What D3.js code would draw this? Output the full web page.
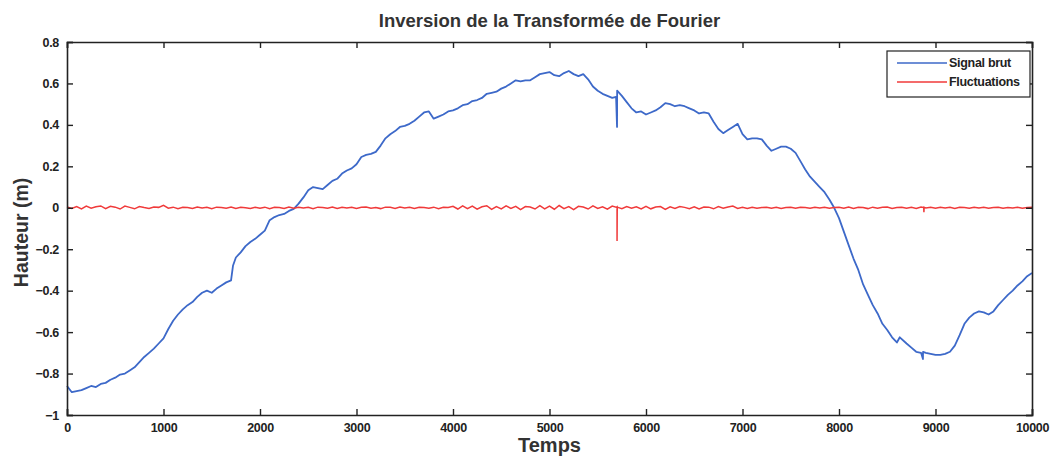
<!DOCTYPE html>
<html>
<head>
<meta charset="utf-8">
<script src="https://cdn.jsdelivr.net/npm/d3@7"></script>
<style>
  body { margin: 0; background: #fff; }
  svg { font-family: "Liberation Sans", Arial, sans-serif; }
  .tick text { font-weight: bold; font-size: 12.5px; fill: #222; letter-spacing: -0.3px; }
</style>
</head>
<body>
<div id="chart"></div>
<script>
// labels
const title = "Inversion de la Transformée de Fourier",
    xLabel = "Temps",
    yLabel = "Hauteur (m)",
    seriesNames = ["Signal brut", "Fluctuations"];

const xTicks = [0, 1000, 2000, 3000, 4000, 5000, 6000, 7000, 8000, 9000, 10000];
const yTicks = [-1, -0.8, -0.6, -0.4, -0.2, 0, 0.2, 0.4, 0.6, 0.8];

// signal brut
const brutTemps = [
    0, 50, 100, 150, 200, 250, 300, 350, 400, 450, 500, 550, 600, 650, 700, 750, 800, 850, 900, 950,
    1000, 1050, 1100, 1150, 1200, 1250, 1300, 1350, 1400, 1450, 1500, 1550, 1600, 1650, 1700, 1720, 1750, 1800, 1850, 1900, 1950,
    2000, 2050, 2100, 2150, 2200, 2250, 2300, 2350, 2400, 2450, 2500, 2550, 2600, 2650, 2700, 2750, 2800, 2850, 2900, 2950,
    3000, 3050, 3100, 3150, 3200, 3250, 3300, 3350, 3400, 3450, 3500, 3550, 3600, 3650, 3700, 3750, 3800, 3850, 3900, 3950,
    4000, 4050, 4100, 4150, 4200, 4250, 4300, 4350, 4400, 4450, 4500, 4550, 4600, 4650, 4700, 4750, 4800, 4850, 4900, 4950,
    5000, 5050, 5100, 5150, 5200, 5250, 5300, 5350, 5400, 5450, 5500, 5550, 5600, 5650, 5690, 5700, 5701, 5750, 5800, 5850, 5900, 5950,
    6000, 6050, 6100, 6150, 6200, 6250, 6300, 6350, 6400, 6450, 6500, 6550, 6600, 6650, 6700, 6750, 6800, 6850, 6900, 6950,
    7000, 7050, 7100, 7150, 7200, 7250, 7300, 7350, 7400, 7450, 7500, 7550, 7600, 7650, 7700, 7750, 7800, 7850, 7900, 7950,
    8000, 8050, 8100, 8150, 8200, 8250, 8300, 8350, 8400, 8450, 8500, 8550, 8600, 8630, 8700, 8750, 8800, 8850, 8870, 8871, 8900, 8950,
    9000, 9050, 9100, 9150, 9200, 9250, 9300, 9350, 9400, 9450, 9500, 9550, 9600, 9650, 9700, 9750, 9800, 9850, 9900, 9950, 10000
];
const brutValues = [
    -0.86, -0.89, -0.885, -0.88, -0.87, -0.86, -0.865, -0.85, -0.845, -0.83, -0.82, -0.805, -0.8, -0.785, -0.77, -0.745, -0.72, -0.7, -0.68, -0.655,
    -0.63, -0.585, -0.545, -0.515, -0.49, -0.47, -0.455, -0.43, -0.41, -0.4, -0.41, -0.39, -0.375, -0.36, -0.35, -0.28, -0.24, -0.215, -0.185, -0.165, -0.15,
    -0.13, -0.11, -0.06, -0.045, -0.035, -0.03, -0.015, -0.005, 0.02, 0.05, 0.085, 0.1, 0.095, 0.09, 0.11, 0.13, 0.14, 0.165, 0.18, 0.19,
    0.21, 0.245, 0.255, 0.26, 0.27, 0.3, 0.335, 0.355, 0.37, 0.39, 0.395, 0.405, 0.42, 0.44, 0.46, 0.465, 0.43, 0.44, 0.45, 0.465,
    0.47, 0.48, 0.495, 0.5, 0.515, 0.52, 0.53, 0.55, 0.555, 0.56, 0.575, 0.585, 0.6, 0.615, 0.61, 0.615, 0.615, 0.63, 0.645, 0.65,
    0.655, 0.64, 0.635, 0.65, 0.66, 0.645, 0.635, 0.645, 0.62, 0.585, 0.565, 0.55, 0.54, 0.53, 0.535, 0.39, 0.565, 0.54, 0.51, 0.48, 0.46, 0.465,
    0.45, 0.46, 0.47, 0.485, 0.505, 0.5, 0.49, 0.495, 0.49, 0.48, 0.47, 0.455, 0.46, 0.455, 0.415, 0.38, 0.36, 0.375, 0.39, 0.405,
    0.355, 0.33, 0.335, 0.335, 0.33, 0.3, 0.275, 0.285, 0.295, 0.295, 0.285, 0.265, 0.225, 0.185, 0.15, 0.125, 0.1, 0.075, 0.04, 0.0,
    -0.05, -0.115, -0.18, -0.245, -0.3, -0.37, -0.42, -0.47, -0.51, -0.56, -0.59, -0.625, -0.65, -0.625, -0.655, -0.675, -0.695, -0.7, -0.73, -0.695, -0.7, -0.705,
    -0.71, -0.71, -0.705, -0.695, -0.665, -0.615, -0.56, -0.53, -0.51, -0.5, -0.505, -0.515, -0.5, -0.47, -0.445, -0.42, -0.4, -0.375, -0.355, -0.33, -0.315
];

// fluctuations, one value every 50 time steps
const fluctValues = [
    0.004, -0.003, 0.006, -0.005, 0.008, -0.002, 0.005, 0.009, -0.004, 0.007, 0.003, -0.006, 0.008, 0.002, -0.005, 0.006, 0.001, -0.003, 0.004, 0.002,
    0.012, -0.002, 0.003, -0.004, 0.002, 0.001, -0.003, 0.004, -0.001, 0.002, -0.004, 0.003, 0.001, -0.002, 0.004, -0.003, 0.002, 0.0, -0.003, 0.003,
    -0.002, 0.003, -0.004, 0.002, 0.001, -0.003, 0.004, -0.002, 0.003, -0.001, 0.002, -0.004, 0.003, 0.001, -0.002, 0.004, -0.003, 0.002, -0.001, 0.003,
    -0.003, 0.002, 0.004, -0.002, 0.001, -0.004, 0.003, 0.002, -0.003, 0.004, -0.001, 0.002, -0.003, 0.003, 0.001, -0.002, 0.003, -0.004, 0.002, 0.001,
    0.007, -0.006, 0.009, -0.004, 0.008, -0.007, 0.005, 0.01, -0.008, 0.006, -0.005, 0.009, -0.003, 0.007, -0.009, 0.006, 0.004, -0.006, 0.01, -0.005,
    0.008, -0.007, 0.011, -0.004, 0.006, -0.009, 0.007, 0.004, -0.006, 0.009, -0.003, 0.005, -0.007, 0.008, 0.003, -0.004, 0.006, -0.002, 0.005, -0.006,
    0.007, -0.005, 0.004, 0.006, -0.008, 0.005, -0.003, 0.006, 0.002, -0.004, 0.005, -0.006, 0.004, 0.003, -0.005, 0.006, -0.002, 0.004, 0.008, -0.003,
    0.002, -0.003, 0.003, -0.002, 0.001, 0.003, -0.002, 0.002, -0.003, 0.001, 0.002, -0.002, 0.003, 0.001, -0.002, 0.002, -0.001, 0.003, -0.002, 0.001,
    0.003, -0.002, 0.004, -0.003, 0.002, 0.001, -0.004, 0.003, -0.002, 0.002, 0.004, -0.003, 0.001, 0.003, -0.002, 0.002, -0.003, 0.004, -0.001, 0.002,
    -0.002, 0.003, -0.001, 0.002, -0.003, 0.002, 0.001, -0.002, 0.003, -0.001, 0.002, -0.002, 0.001, 0.003, -0.002, 0.001, -0.001, 0.002, -0.002, 0.001,
    0.002
];
// spikes in the fluctuations
const fluctPicTemps = [5698, 5700, 5702, 8878, 8880, 8882];
const fluctPicValues = [0.002, -0.16, 0.003, 0.001, -0.022, 0.002];

const width = 1053,
    height = 458,
    margin = { top: 42, right: 21, bottom: 43, left: 67 };

const colors = ["#3d69c9", "#f03a3a"];

const svg = d3.select("#chart")
    .append("svg")
    .attr("width", width)
    .attr("height", height);

const xScale = d3.scaleLinear()
    .domain([0, 10000])
    .range([margin.left, width - margin.right]);

const yScale = d3.scaleLinear()
    .domain([-1, 0.8])
    .range([height - margin.bottom, margin.top]);

// build series
const brut = brutTemps.map((t, i) => [t, brutValues[i]]);
const fluct = fluctValues.map((v, i) => [i * 50, v])
    .concat(fluctPicTemps.map((t, i) => [t, fluctPicValues[i]]))
    .sort((a, b) => a[0] - b[0]);

const line = d3.line()
    .x(d => xScale(d[0]))
    .y(d => yScale(d[1]));

svg.append("path")
    .datum(brut)
    .attr("fill", "none")
    .attr("stroke", colors[0])
    .attr("stroke-width", 1.8)
    .attr("stroke-linejoin", "round")
    .attr("d", line);

svg.append("path")
    .datum(fluct)
    .attr("fill", "none")
    .attr("stroke", colors[1])
    .attr("stroke-width", 1.5)
    .attr("d", line);

// axes, ticks inward on all four sides
const fmt = d => d3.format("")(+d.toFixed(1));

svg.append("g")
    .attr("transform", `translate(0, ${height - margin.bottom})`)
    .call(d3.axisBottom(xScale).tickValues(xTicks).tickSize(-6).tickPadding(8).tickFormat(d3.format("d")));
svg.append("g")
    .attr("transform", `translate(0, ${margin.top})`)
    .call(d3.axisTop(xScale).tickValues(xTicks).tickSize(-6).tickFormat(""));
svg.append("g")
    .attr("transform", `translate(${margin.left}, 0)`)
    .call(d3.axisLeft(yScale).tickValues(yTicks).tickSize(-6).tickPadding(8).tickFormat(fmt));
svg.append("g")
    .attr("transform", `translate(${width - margin.right}, 0)`)
    .call(d3.axisRight(yScale).tickValues(yTicks).tickSize(-6).tickFormat(""));

svg.selectAll(".domain").attr("stroke", "#222").attr("stroke-width", 1.6);
svg.selectAll(".tick line").attr("stroke", "#222").attr("stroke-width", 1.4);

// title and labels
svg.append("text")
    .attr("x", (margin.left + width - margin.right) / 2)
    .attr("y", 27)
    .attr("text-anchor", "middle")
    .attr("font-weight", "bold")
    .attr("font-size", 18.5)
    .attr("fill", "#333")
    .text(title);

svg.append("text")
    .attr("x", (margin.left + width - margin.right) / 2)
    .attr("y", 452)
    .attr("text-anchor", "middle")
    .attr("font-weight", "bold")
    .attr("font-size", 20)
    .attr("fill", "#333")
    .text(xLabel);

svg.append("text")
    .attr("transform", `translate(28, ${(margin.top + height - margin.bottom) / 2 + 4}) rotate(-90)`)
    .attr("text-anchor", "middle")
    .attr("font-weight", "bold")
    .attr("font-size", 19.5)
    .attr("fill", "#333")
    .text(yLabel);

// legend
const legend = svg.append("g").attr("transform", "translate(887, 51)");
legend.append("rect")
    .attr("width", 143)
    .attr("height", 46)
    .attr("fill", "#fff")
    .attr("stroke", "#222")
    .attr("stroke-width", 1.2);

seriesNames.forEach((name, i) => {
    const y = 12 + i * 19;
    legend.append("line")
        .attr("x1", 10).attr("x2", 60)
        .attr("y1", y).attr("y2", y)
        .attr("stroke", colors[i])
        .attr("stroke-width", 1.5);
    legend.append("text")
        .attr("x", 62)
        .attr("y", y + 4)
        .attr("font-size", 12.5)
        .attr("font-weight", "bold")
        .attr("letter-spacing", -0.3)
        .attr("fill", "#222")
        .text(name);
});
</script>
</body>
</html>
